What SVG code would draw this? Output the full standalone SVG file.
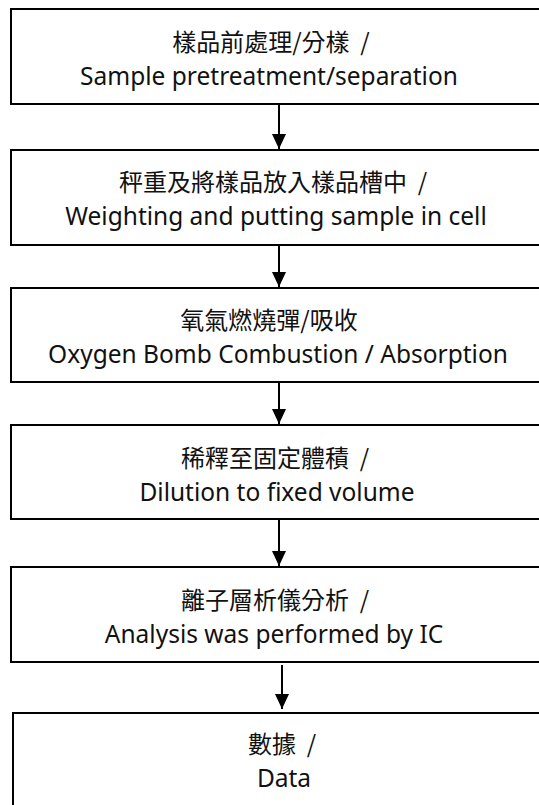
<svg xmlns="http://www.w3.org/2000/svg" width="539" height="805" viewBox="0 0 539 805">
<style>
.box{fill:#fff;stroke:#000;stroke-width:2}
.t{font-family:"Noto Sans","Noto Sans CJK TC",sans-serif;fill:#111;text-anchor:middle}
.zh{font-size:24px;font-family:"Noto Sans CJK TC",sans-serif}
.en{font-size:24.5px}
.conn{stroke:#000;stroke-width:2;fill:none;marker-end:url(#ah)}
</style>
<defs>
<marker id="ah" markerUnits="userSpaceOnUse" markerWidth="15" markerHeight="14" refX="15" refY="7" orient="auto" viewBox="0 0 15 14">
<path d="M0,0 L15,7 L0,14 z" fill="#000"/>
</marker>
</defs>
<rect width="539" height="805" fill="#fff"/>
<g id="connectors">
<line class="conn" x1="279" y1="105" x2="279" y2="149"/>
<line class="conn" x1="279" y1="246" x2="279" y2="287"/>
<line class="conn" x1="279" y1="383" x2="279" y2="424"/>
<line class="conn" x1="279" y1="520" x2="279" y2="566"/>
<line class="conn" x1="282" y1="665" x2="282" y2="709"/>
</g>
<g id="n1">
<rect class="box" x="11" y="9" width="540" height="95"/>
<text class="t zh" x="271" y="51">樣品前處理/分樣&#160; /</text>
<text class="t en" x="269" y="85">Sample pretreatment/separation</text>
</g>
<g id="n2">
<rect class="box" x="11" y="150" width="540" height="95"/>
<text class="t zh" x="273" y="191">秤重及將樣品放入樣品槽中&#160; /</text>
<text class="t en" x="276" y="225">Weighting and putting sample in cell</text>
</g>
<g id="n3">
<rect class="box" x="11" y="288" width="540" height="94"/>
<text class="t zh" x="269" y="329">氧氣燃燒彈/吸收</text>
<text class="t en" x="278" y="363">Oxygen Bomb Combustion / Absorption</text>
</g>
<g id="n4">
<rect class="box" x="11" y="425" width="540" height="94"/>
<text class="t zh" x="275" y="467">稀釋至固定體積&#160; /</text>
<text class="t en" x="277" y="501">Dilution to fixed volume</text>
</g>
<g id="n5">
<rect class="box" x="11" y="567" width="540" height="95"/>
<text class="t zh" x="275" y="609">離子層析儀分析&#160; /</text>
<text class="t en" x="274" y="643">Analysis was performed by IC</text>
</g>
<g id="n6">
<rect class="box" x="13" y="713" width="540" height="110"/>
<text class="t zh" x="282" y="753">數據&#160; /</text>
<text class="t en" x="284" y="787">Data</text>
</g>
</svg>
